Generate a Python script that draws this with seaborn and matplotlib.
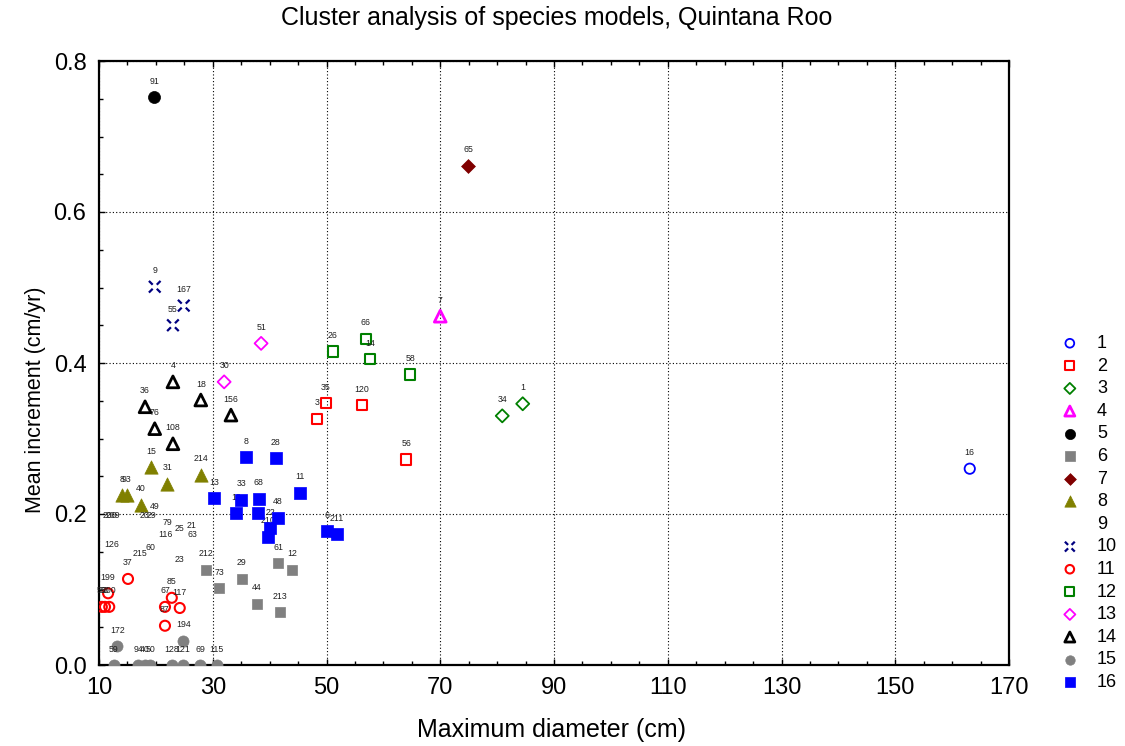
import matplotlib
matplotlib.use("Agg")
import matplotlib.pyplot as plt
import seaborn as sns
import pandas as pd
from matplotlib.path import Path
from matplotlib.ticker import FixedLocator, MultipleLocator

# ---------------- data ----------------
cluster = [1,
           2, 2, 2, 2,
           3, 3,
           4,
           5,
           6, 6, 6, 6, 6, 6, 6,
           7,
           8, 8, 8, 8, 8, 8,
           9, 9, 9, 9, 9, 9, 9, 9, 9, 9, 9, 9, 9, 9,
           10, 10, 10,
           11, 11, 11, 11, 11, 11, 11, 11, 11,
           12, 12, 12, 12,
           13, 13,
           14, 14, 14, 14, 14, 14,
           15, 15, 15, 15, 15, 15, 15, 15, 15, 15,
           16, 16, 16, 16, 16, 16, 16, 16, 16, 16, 16, 16, 16]
diameter = [163.1,
            48.3, 49.9, 56.2, 64.0,
            80.9, 84.5,
            70.0,
            19.7,
            28.8, 31.1, 35.1, 37.8, 41.5, 43.9, 41.8,
            74.9,
            19.1, 27.9, 22.0, 14.0, 14.9, 17.4,
            11.9, 12.4, 18.0, 19.3, 22.1, 24.2, 26.2, 21.6, 26.4, 12.3, 19.0, 17.2, 24.2, 19.8,
            19.8, 24.9, 23.0,
            15.1, 11.6, 10.5, 11.05, 11.8, 21.6, 22.8, 24.2, 21.6,
            51.1, 56.9, 57.6, 64.7,
            38.5, 32.0,
            23.0, 27.9, 18.1, 33.2, 19.8, 23.0,
            12.6, 16.9, 18.1, 19.0, 22.8, 24.8, 27.8, 30.7, 13.2, 24.8,
            35.8, 41.1, 30.2, 35.0, 38.1, 45.3, 34.1, 38.0, 41.5, 40.1, 39.7, 50.1, 51.8]
increment = [0.260,
             0.326, 0.347, 0.344, 0.272,
             0.330, 0.346,
             0.462,
             0.752,
             0.126, 0.102, 0.114, 0.081, 0.135, 0.126, 0.070,
             0.661,
             0.262, 0.252, 0.240, 0.225, 0.225, 0.212,
             0.177, 0.177, 0.177, 0.177, 0.168, 0.160, 0.164, 0.152, 0.152, 0.138, 0.134, 0.127, 0.119, 0.189,
             0.501, 0.476, 0.450,
             0.114, 0.095, 0.077, 0.077, 0.077, 0.077, 0.089, 0.0755, 0.052,
             0.415, 0.432, 0.405, 0.385,
             0.426, 0.375,
             0.375, 0.351, 0.342, 0.331, 0.313, 0.293,
             0.0, 0.0, 0.0, 0.0, 0.0, 0.0, 0.0, 0.0, 0.025, 0.032,
             0.275, 0.274, 0.221, 0.219, 0.220, 0.228, 0.201, 0.201, 0.195, 0.181, 0.170, 0.177, 0.173]
species = ["16",
           "3", "35", "120", "56",
           "34", "1",
           "7",
           "91",
           "212", "73", "29", "44", "61", "12", "213",
           "65",
           "15", "214", "31", "8", "93", "40",
           "200", "209", "20", "29", "79", "25", "21", "116", "63", "126", "60", "215", "23", "49",
           "9", "167", "55",
           "37", "199", "56", "50", "200", "67", "85", "117", "87",
           "26", "66", "14", "58",
           "51", "30",
           "4", "18", "36", "156", "76", "108",
           "59", "94", "40", "50", "128", "121", "69", "115", "172", "194",
           "8", "28", "13", "33", "68", "11", "19", "27", "48", "22", "210", "6", "211"]

cluster_names = [str(i) for i in range(1, 17)]
x_ticks = [10, 30, 50, 70, 90, 110, 130, 150, 170]
y_ticks = [0.0, 0.2, 0.4, 0.6, 0.8]
y_tick_labels = ["0.0", "0.2", "0.4", "0.6", "0.8"]

title = "Cluster analysis of species models, Quintana Roo"
x_label = "Maximum diameter (cm)"
y_label = "Mean increment (cm/yr)"

# ---------------- styles ----------------
xdash = Path([(-1, 1), (-0.35, 0.35), (0.35, 0.35), (1, 1),
              (-1, -1), (-0.35, -0.35), (0.35, -0.35), (1, -1)],
             [Path.MOVETO, Path.LINETO, Path.MOVETO, Path.LINETO,
              Path.MOVETO, Path.LINETO, Path.MOVETO, Path.LINETO])

styles = {
    1:  dict(marker="o", fc="none", ec="#0000FF", s=55, lw=1.3),
    2:  dict(marker="s", fc="none", ec="#FF0000", s=56, lw=1.5),
    3:  dict(marker="D", fc="none", ec="#008000", s=44, lw=1.3),
    4:  dict(marker="^", fc="none", ec="#FF00FF", s=72, lw=2.0),
    5:  dict(marker="o", fc="#000000", ec="#000000", s=75, lw=0.5),
    6:  dict(marker="s", fc="#808080", ec="#808080", s=60, lw=0.5),
    7:  dict(marker="D", fc="#800000", ec="#800000", s=50, lw=0.5),
    8:  dict(marker="^", fc="#808000", ec="#808000", s=92, lw=0.5),
    9:  dict(marker="o", fc="none", ec="none", s=40, lw=0.0),
    10: dict(marker=xdash, fc="none", ec="#000080", s=70, lw=1.6),
    11: dict(marker="o", fc="none", ec="#FF0000", s=52, lw=1.5),
    12: dict(marker="s", fc="none", ec="#008000", s=56, lw=1.5),
    13: dict(marker="D", fc="none", ec="#FF00FF", s=44, lw=1.3),
    14: dict(marker="^", fc="none", ec="#000000", s=72, lw=2.0),
    15: dict(marker="o", fc="#808080", ec="#808080", s=64, lw=0.5),
    16: dict(marker="s", fc="#0000FF", ec="#0000FF", s=70, lw=0.5),
}

df = pd.DataFrame({"cluster": cluster, "diameter": diameter,
                   "increment": increment, "species": species})

sns.set_theme(style="white")
plt.rcParams["font.family"] = ["Liberation Sans", "DejaVu Sans"]
plt.rcParams["text.color"] = "black"
plt.rcParams["axes.labelcolor"] = "black"
plt.rcParams["xtick.color"] = "black"
plt.rcParams["ytick.color"] = "black"

fig = plt.figure(figsize=(11.25, 7.46), dpi=100)
ax = fig.add_axes([99 / 1125, 1 - 665 / 746, 910 / 1125, 604 / 746])

for c in range(1, 17):
    sub = df[df["cluster"] == c]
    st = styles[c]
    sns.scatterplot(data=sub, x="diameter", y="increment", ax=ax,
                    marker=st["marker"], s=st["s"], facecolor=st["fc"],
                    edgecolor=st["ec"], linewidth=st["lw"],
                    label=cluster_names[c - 1], zorder=3)
    lab_z = 2.5 if c == 16 else 4
    for _, r in sub.iterrows():
        ax.annotate(r["species"], (r["diameter"], r["increment"]),
                    xytext=(0, 11.5), textcoords="offset points",
                    ha="center", va="center", fontsize=6.3,
                    color="#202020", zorder=lab_z)

ax.set_xlim(10, 170)
ax.set_ylim(0, 0.8)
ax.xaxis.set_major_locator(FixedLocator(x_ticks))
ax.xaxis.set_minor_locator(MultipleLocator(5))
ax.set_xticklabels([str(v) for v in x_ticks])
ax.yaxis.set_major_locator(FixedLocator(y_ticks))
ax.yaxis.set_minor_locator(MultipleLocator(0.05))
ax.set_yticklabels(y_tick_labels)

ax.tick_params(which="both", direction="in", bottom=True, top=True,
               left=True, right=False, colors="black", width=1.0)
ax.tick_params(which="major", length=4, labelsize=17, pad=9)
ax.tick_params(which="minor", length=3)

ax.grid(True, which="major", color="black", linestyle=(0, (1, 2)),
        linewidth=0.8)
ax.set_axisbelow(True)
for sp in ax.spines.values():
    sp.set_color("black")
    sp.set_linewidth(1.6)

ax.set_xlabel(x_label, fontsize=18)
ax.set_ylabel(y_label, fontsize=15.5)
ax.xaxis.set_label_coords(0.497, -0.088)
ax.yaxis.set_label_coords(-0.058, 0.439)
fig.text(557 / 1125, 1 - 18 / 746, title, fontsize=18, ha="center",
         va="center")

ax.legend(loc="upper left", bbox_to_anchor=(1059 / 1125, 1 - 335 / 746),
          bbox_transform=fig.transFigure, frameon=False, fontsize=13,
          labelspacing=0.31, handletextpad=0.9, handlelength=1.2,
          markerscale=0.85, borderpad=0, borderaxespad=0)

fig.savefig("out.png", dpi=100)
